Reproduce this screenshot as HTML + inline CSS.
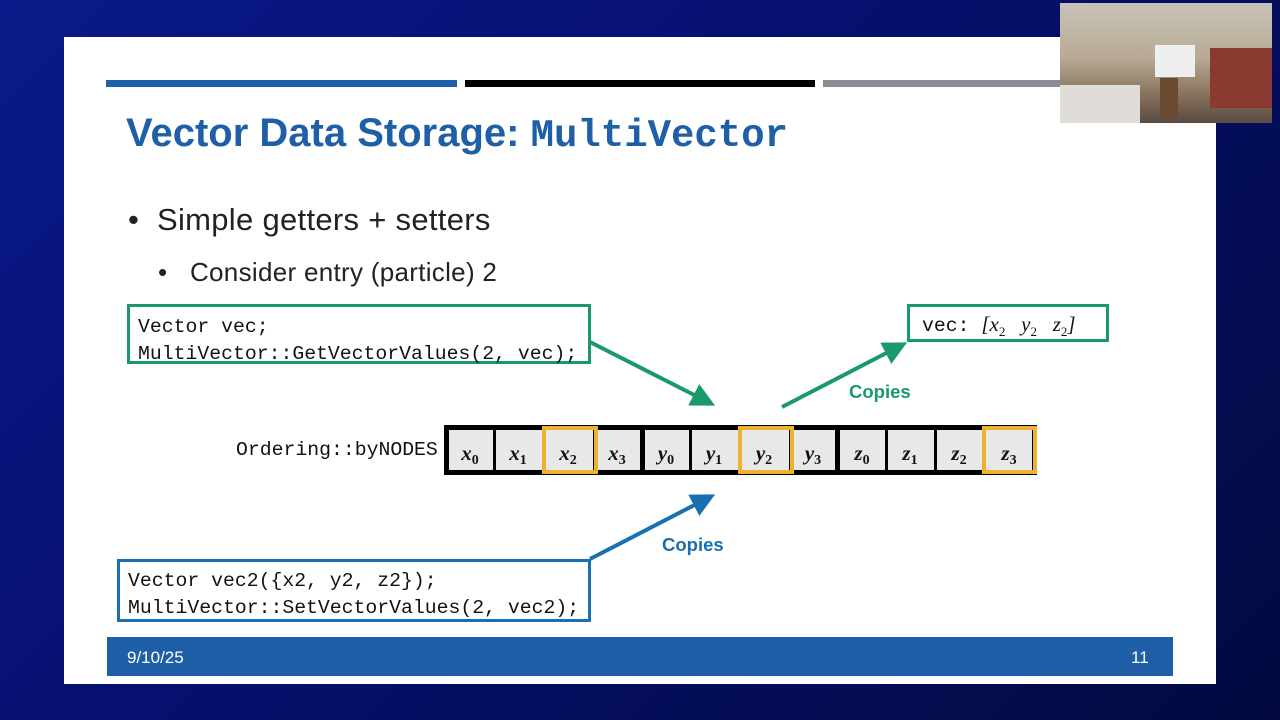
<!DOCTYPE html>
<html><head><meta charset="utf-8"><style>
html,body{margin:0;padding:0;width:1280px;height:720px;overflow:hidden}
body{background:linear-gradient(135deg,#0a1a8a 0%,#071070 40%,#020a40 100%);position:relative;font-family:"Liberation Sans",sans-serif}
.slide{position:absolute;left:64px;top:37px;width:1152px;height:647px;background:#fff}
.a{position:absolute}
.mono{font-family:"Liberation Mono",monospace;font-size:19.8px;line-height:27px;color:#111}
</style></head><body>
<div class="slide"></div>
<div class="a" style="left:106px;top:80px;width:351px;height:7px;background:#1f5fa8"></div>
<div class="a" style="left:465px;top:80px;width:350px;height:7px;background:#000"></div>
<div class="a" style="left:823px;top:80px;width:350px;height:7px;background:#8a8e92"></div>
<div class="a" style="left:126px;top:111px;font-size:40px;font-weight:bold;color:#1f5fa8;white-space:nowrap">Vector Data Storage: <span style="font-family:'Liberation Mono',monospace;font-size:39px">MultiVector</span></div>
<div class="a" style="left:128px;top:202px;font-size:31px;color:#222;white-space:nowrap;letter-spacing:0.3px">•&nbsp;&nbsp;Simple getters + setters</div>
<div class="a" style="left:158px;top:257px;font-size:26px;color:#222;white-space:nowrap;letter-spacing:0.3px">•&nbsp;&nbsp;&nbsp;Consider entry (particle) 2</div>

<div class="a mono" style="left:127px;top:304px;width:464px;height:60px;border:3px solid #1a9a6a;padding:7px 0 0 8px;box-sizing:border-box;white-space:nowrap">Vector vec;<br>MultiVector::GetVectorValues(2, vec);</div>
<div class="a mono" style="left:117px;top:559px;width:474px;height:63px;border:3px solid #1a6fb0;padding:6px 0 0 8px;box-sizing:border-box;white-space:nowrap">Vector vec2({x2, y2, z2});<br>MultiVector::SetVectorValues(2, vec2);</div>
<div class="a mono" style="left:907px;top:304px;width:202px;height:38px;border:3px solid #1a9a6a;padding:4px 0 0 12px;box-sizing:border-box;white-space:nowrap">vec: <span style="font-family:'Liberation Serif',serif;font-style:italic;font-size:21px">[x<sub style="font-style:normal;font-size:13px">2</sub>&nbsp;&nbsp;&nbsp;y<sub style="font-style:normal;font-size:13px">2</sub>&nbsp;&nbsp;&nbsp;z<sub style="font-style:normal;font-size:13px">2</sub>]</span></div>
<div class="a mono" style="left:236px;top:437px">Ordering::byNODES</div>
<div class="a" style="left:849px;top:381px;font-size:18.5px;font-weight:bold;color:#1a9a6a">Copies</div>
<div class="a" style="left:662px;top:534px;font-size:18.5px;font-weight:bold;color:#1a6fb0">Copies</div>

<svg class="a" style="left:0;top:0" width="1280" height="720">
<defs>
<marker id="g" markerWidth="6" markerHeight="6" refX="4" refY="3" orient="auto"><path d="M0,0L6,3L0,6z" fill="#1a9a6a"/></marker>
<marker id="b" markerWidth="6" markerHeight="6" refX="4" refY="3" orient="auto"><path d="M0,0L6,3L0,6z" fill="#1a6fb0"/></marker>
</defs>
<line x1="590" y1="342" x2="708" y2="402" stroke="#1a9a6a" stroke-width="4" marker-end="url(#g)"/>
<line x1="782" y1="407" x2="900" y2="346" stroke="#1a9a6a" stroke-width="4" marker-end="url(#g)"/>
<line x1="590" y1="559" x2="708" y2="498" stroke="#1a6fb0" stroke-width="4" marker-end="url(#b)"/>
<rect x="444" y="425" width="593" height="50" fill="#000"/>
</svg>
<svg class="a" style="left:0;top:0" width="1280" height="720" font-family="Liberation Serif,serif" font-weight="bold" font-size="21" fill="#111">
<g fill="#e8e8e8">
<rect x="449" y="430" width="44" height="40"/><rect x="496" y="430" width="46" height="40"/><rect x="545" y="430" width="48" height="40"/><rect x="596" y="430" width="44" height="40"/>
<rect x="645" y="430" width="44" height="40"/><rect x="692" y="430" width="46" height="40"/><rect x="741" y="430" width="48" height="40"/><rect x="792" y="430" width="43" height="40"/>
<rect x="840" y="430" width="45" height="40"/><rect x="888" y="430" width="46" height="40"/><rect x="937" y="430" width="46" height="40"/><rect x="986" y="430" width="46" height="40"/>
</g>
<g fill="none" stroke="#f0b030" stroke-width="4">
<rect x="544" y="428" width="52" height="44"/><rect x="740" y="428" width="52" height="44"/><rect x="984" y="428" width="51" height="44"/>
</g>
<g text-anchor="middle" font-style="italic">
<text x="470" y="460">x<tspan font-size="14" font-style="normal" dy="4">0</tspan></text>
<text x="518" y="460">x<tspan font-size="14" font-style="normal" dy="4">1</tspan></text>
<text x="568" y="460">x<tspan font-size="14" font-style="normal" dy="4">2</tspan></text>
<text x="617" y="460">x<tspan font-size="14" font-style="normal" dy="4">3</tspan></text>
<text x="666" y="460">y<tspan font-size="14" font-style="normal" dy="4">0</tspan></text>
<text x="714" y="460">y<tspan font-size="14" font-style="normal" dy="4">1</tspan></text>
<text x="764" y="460">y<tspan font-size="14" font-style="normal" dy="4">2</tspan></text>
<text x="813" y="460">y<tspan font-size="14" font-style="normal" dy="4">3</tspan></text>
<text x="862" y="460">z<tspan font-size="14" font-style="normal" dy="4">0</tspan></text>
<text x="910" y="460">z<tspan font-size="14" font-style="normal" dy="4">1</tspan></text>
<text x="959" y="460">z<tspan font-size="14" font-style="normal" dy="4">2</tspan></text>
<text x="1009" y="460">z<tspan font-size="14" font-style="normal" dy="4">3</tspan></text>
</g>
</svg>

<div class="a" style="left:107px;top:637px;width:1066px;height:39px;background:#1f5fa8"></div>
<div class="a" style="left:127px;top:648px;font-size:17px;color:#fff">9/10/25</div>
<div class="a" style="left:1131px;top:648px;font-size:17px;color:#fff">11</div>

<div class="a" style="left:1060px;top:3px;width:212px;height:120px;background:linear-gradient(180deg,#c8c2b8 0%,#b8ab95 45%,#8a7560 75%,#5a4a40 100%)">
<div class="a" style="left:95px;top:42px;width:40px;height:32px;background:#eef0f0"></div>
<div class="a" style="left:100px;top:75px;width:18px;height:40px;background:#6a4a30"></div>
<div class="a" style="left:0;top:82px;width:80px;height:38px;background:#e0dcd8"></div>
<div class="a" style="left:150px;top:45px;width:62px;height:60px;background:#8a3a30"></div>
</div>
</body></html>
